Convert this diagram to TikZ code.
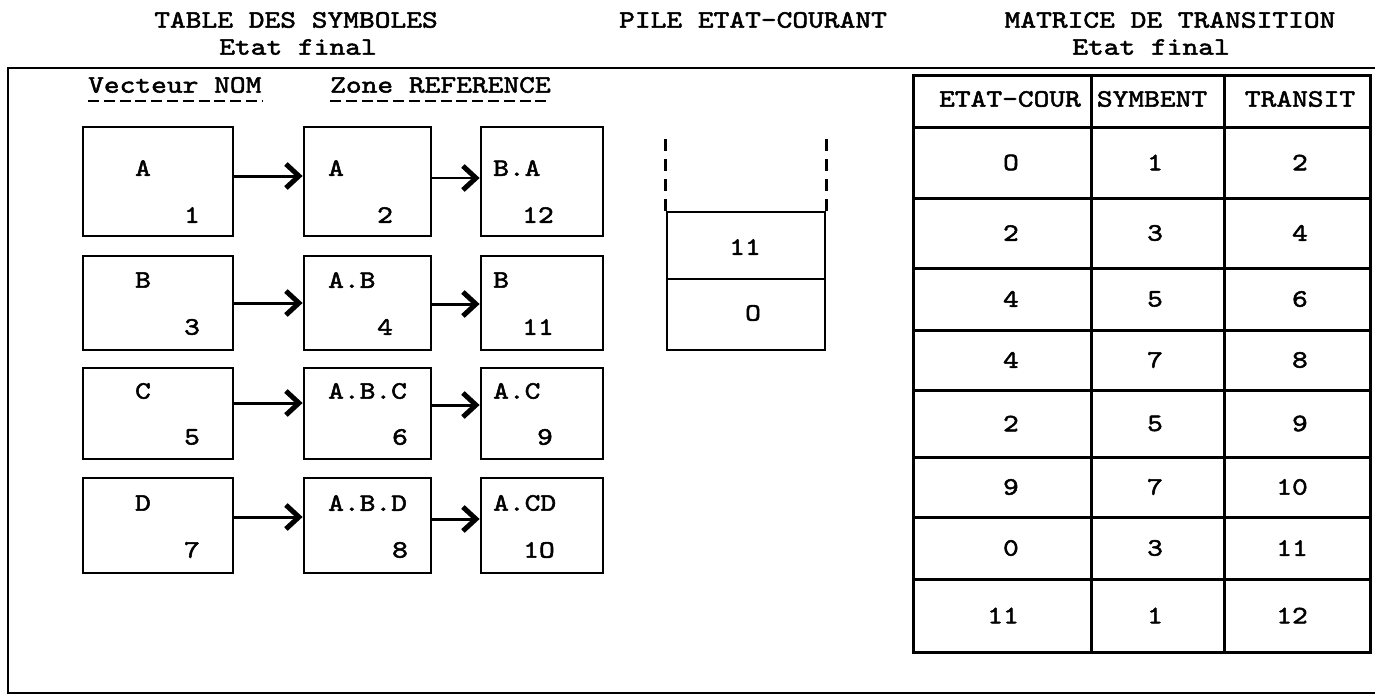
\documentclass[tikz,border=0pt]{standalone}
\usepackage{fontspec}
\newfontfamily\tw{lmmono10-regular.otf}[FakeStretch=1.2, FakeBold=2]
\usetikzlibrary{arrows.meta}
\tikzset{
  txt/.style={font=\tw\fontsize{25}{30}\selectfont, inner sep=0pt},
  box/.style={draw, line width=2.8pt, rectangle, inner sep=0pt},
  link/.style={line width=3pt, -{Straight Barb[length=13pt,width=24pt,line width=5pt]}},
  thinlink/.style={line width=1.8pt, -{Straight Barb[length=13pt,width=24pt,line width=5pt]}},
  frame/.style={line width=2pt},
  grid/.style={line width=3pt},
  stackside/.style={line width=3pt, dash pattern=on 12pt off 8pt},
  typeline/.style={line width=2pt, dash pattern=on 11pt off 4.8pt},
}
\begin{document}
\begin{tikzpicture}[x=1pt,y=-1pt]
\useasboundingbox (0,0) rectangle (1375,696);

% headings
\node[txt] (t1) at (296,20) {TABLE DES SYMBOLES};
\node[txt] (t1b) at (298,47) {Etat final};
\node[txt] (t2) at (753,20) {PILE ETAT-COURANT};
\node[txt] (t3) at (1170,20) {MATRICE DE TRANSITION};
\node[txt] (t3b) at (1151,47) {Etat final};

% open frame round the three parts
\draw[frame] (1375,68) -- (8,68) -- (8,693) -- (1375,693);

% column captions, underlined with typed hyphens
\node[txt, anchor=west] (vn) at (88,85) {Vecteur NOM};
\node[txt, anchor=west] (zr) at (330,85) {Zone REFERENCE};
\draw[typeline] (88,101) -- (262,101);
\draw[typeline] (330,101) -- (549,101);

% symbol table: name vector, reference zone, qualified names
\foreach \r/\cy/\h/\ly/\ny/\sa/\na/\nb/\nc/\la/\lb/\lc/\xb/\xc in {
  1/181.5/109/168/215/5.5/1/2/12/A/A/B.A/385/538,
  2/303/94/280/327/0/3/4/11/B/A.B/B/385/538,
  3/413.5/91/391/437/10.5/5/6/9/C/A.B.C/A.C/400/545,
  4/525.5/95/503/550/8.5/7/8/1O/D/A.B.D/A.CD/400/539}{
  \node[box, minimum width=150pt, minimum height=\h pt] (a\r) at (158,\cy) {};
  \node[box, minimum width=127pt, minimum height=\h pt] (b\r) at (367.5,\cy) {};
  \node[box, minimum width=122pt, minimum height=\h pt] (c\r) at (542,\cy) {};
  \node[txt] (al\r) at (143,\ly) {\la};
  \node[txt] (an\r) at (192,\ny) {\na};
  \node[txt, anchor=west] (bl\r) at (328,\ly) {\lb};
  \node[txt] (bn\r) at (\xb,\ny) {\nb};
  \node[txt, anchor=west] (cl\r) at (493,\ly) {\lc};
  \node[txt] (cn\r) at (\xc,\ny) {\nc};
  \draw[link] ([yshift=\sa pt]a\r.east) -- ([yshift=\sa pt]b\r.west);
}
\draw[thinlink] ([yshift=3.5pt]b1.east) -- ([yshift=3.5pt]c1.west);
\draw[link] ([yshift=-1pt]b2.east) -- ([yshift=-1pt]c2.west);
\draw[link] ([yshift=8.5pt]b3.east) -- ([yshift=8.5pt]c3.west);
\draw[link] ([yshift=6.5pt]b4.east) -- ([yshift=6.5pt]c4.west);

% current-state stack
\node[box, minimum width=158pt, minimum height=67pt] (p1) at (746,245.5) {};
\node[box, minimum width=158pt, minimum height=71pt] (p0) at (746,314.5) {};
\node[txt] (p1v) at (745,247) {11};
\node[txt] (p0v) at (753,313) {O};
\draw[stackside] (p1.north west) -- ++(0,-79);
\draw[stackside] (p1.north east) -- ++(0,-79);

% transition matrix
\draw[grid] (913,75) rectangle (1370,652);
\foreach \y in {127,198,268,330,390,457,517,579}
  \draw[grid] (913,\y) -- (1370,\y);
\draw[grid] (1091,75) -- (1091,652);
\draw[grid] (1224,75) -- (1224,652);
\node[txt] (h1) at (1010,99) {ETAT-COUR};
\node[txt] (h2) at (1152,99) {SYMBENT};
\node[txt] (h3) at (1300,99) {TRANSIT};
\foreach \i/\y/\e/\s/\t in {1/162.5/O/1/2, 2/233/2/3/4, 3/299/4/5/6, 4/360/4/7/8,
    5/423.5/2/5/9, 6/487/9/7/10, 7/548/0/3/11, 8/615.5/11/1/12}{
  \node[txt, anchor=east] (e\i) at (1019,\y) {\e};
  \node[txt] (s\i) at (1155,\y) {\s};
  \node[txt, anchor=east] (m\i) at (1308,\y) {\t};
}
\end{tikzpicture}
\end{document}
